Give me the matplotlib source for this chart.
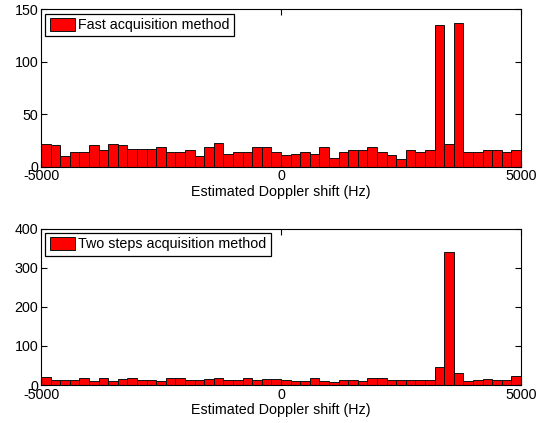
#!/usr/bin/env python3

import matplotlib
matplotlib.use('Agg')
import matplotlib.pyplot as plt
import numpy as np

plt.rcParams['font.family'] = ['Liberation Sans', 'DejaVu Sans']
plt.rcParams['font.size'] = 10.3
plt.rcParams['axes.unicode_minus'] = False

# histogram bin edges (Hz) and counts
bin_edges = np.linspace(-5000, 5000, 51)

fast_counts = [22, 21, 10, 14, 14, 21, 16, 22, 21, 17,
               17, 17, 19, 14, 14, 16, 10, 19, 23, 12,
               14, 14, 19, 19, 14, 11, 12, 14, 12, 19,
               8, 14, 16, 16, 19, 14, 11, 7, 16, 14,
               16, 135, 22, 137, 14, 14, 16, 16, 14, 16]

two_step_counts = [21, 14, 13, 13, 17, 11, 17, 11, 15, 17,
                   14, 14, 9, 17, 18, 13, 14, 16, 18, 14,
                   13, 18, 14, 16, 16, 12, 9, 9, 17, 9,
                   7, 14, 13, 9, 17, 17, 13, 13, 13, 14,
                   13, 45, 340, 31, 11, 14, 16, 14, 14, 22]

panels = [
    (fast_counts, 'Fast acquisition method', [0, 50, 100, 150], 150),
    (two_step_counts, 'Two steps acquisition method', [0, 100, 200, 300, 400], 400),
]

fig = plt.figure(figsize=(5.46, 4.23), dpi=100)
rects = [[0.0751, 0.606, 0.879, 0.372], [0.0751, 0.0898, 0.879, 0.370]]

widths = np.diff(bin_edges)
for rect, (counts, label, yticks, ymax) in zip(rects, panels):
    ax = fig.add_axes(rect)
    ax.bar(bin_edges[:-1], counts, width=widths, align='edge',
           color='#ff0000', edgecolor='#111111', linewidth=0.7, label=label)
    ax.set_xlim(-5000, 5000)
    ax.set_ylim(0, ymax)
    ax.set_xticks([-5000, 0, 5000])
    ax.set_yticks(yticks)
    ax.tick_params(direction='in', top=True, right=True, length=4, width=0.8,
                   pad=2)
    for s in ax.spines.values():
        s.set_linewidth(0.8)
    ax.set_xlabel('Estimated Doppler shift (Hz)', labelpad=1)
    leg = ax.legend(loc='upper left', fancybox=False, framealpha=1,
                    edgecolor='black', borderpad=0.3, handlelength=1.8,
                    handleheight=1.0, handletextpad=0.2, borderaxespad=0.3)
    leg.get_frame().set_linewidth(0.9)

fig.savefig('out.png', dpi=100)
